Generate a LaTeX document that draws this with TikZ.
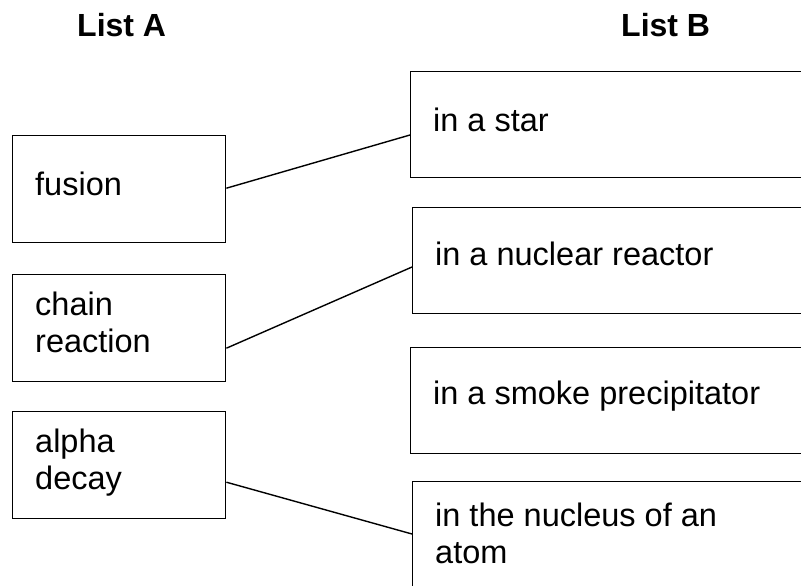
\documentclass[tikz,border=0pt]{standalone}
\usepackage{fontspec}
\setmainfont{Liberation Sans}
\begin{document}
\begin{tikzpicture}[x=1pt,y=-1pt,
  abox/.style={draw=black,line width=1.4pt,rectangle,inner sep=0pt,minimum width=213pt,minimum height=107pt,anchor=north west},
  bbox/.style={draw=black,line width=1.4pt,rectangle,inner sep=0pt,minimum width=420pt,minimum height=106pt,anchor=north west},
  lbl/.style={anchor=base west,inner sep=0pt,font=\fontsize{32.5}{37}\selectfont,align=left},
  head/.style={anchor=base west,inner sep=0pt,font=\fontsize{32}{37}\selectfont\bfseries},
  link/.style={draw=black,line width=1.4pt}]
\clip (0,0) rectangle (801,586);
\useasboundingbox (0,0) rectangle (801,586);
% headings
\node[head] (headA) at (77,37) {List A};
\node[head] (headB) at (621,37) {List B};
% List A boxes
\node[abox] (fusionbox) at (12,135) {};
\node[abox] (chainbox) at (12,274) {};
\node[abox] (alphabox) at (12,411) {};
\node[lbl] (fusiontxt) at (35,195) {fusion};
\node[lbl] (chaintxt) at (35,352) {chain\\reaction};
\node[lbl] (alphatxt) at (35,489) {alpha\\decay};
% List B boxes
\node[bbox] (starbox) at (410,71) {};
\node[bbox] (reactorbox) at (412,207) {};
\node[bbox] (smokebox) at (410,347) {};
\node[bbox] (nucleusbox) at (412,481) {};
\node[lbl] (startxt) at (433,131) {in a star};
\node[lbl] (reactortxt) at (435,265) {in a nuclear reactor};
\node[lbl] (smoketxt) at (433,404) {in a smoke precipitator};
\node[lbl] (nucleustxt) at (435,563) {in the nucleus of an\\atom};
% connectors
\draw[link] ([yshift=1pt]fusionbox.east) -- ([yshift=-64pt]starbox.north west);
\draw[link] ([yshift=-20pt]chainbox.east) -- ([yshift=-60pt]reactorbox.north west);
\draw[link] ([yshift=-17pt]alphabox.east) -- ([yshift=-53pt]nucleusbox.north west);
\end{tikzpicture}
\end{document}
